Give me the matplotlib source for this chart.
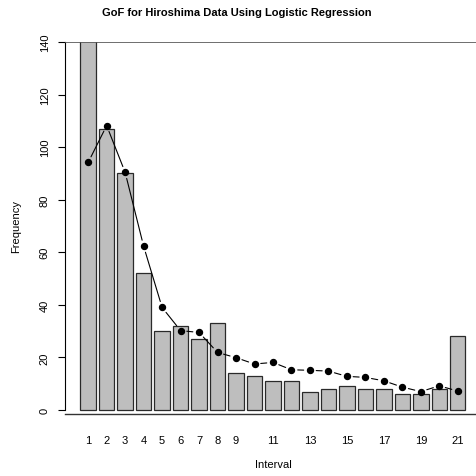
import matplotlib
matplotlib.use("Agg")
import matplotlib.pyplot as plt

plt.rcParams['font.family'] = ['Liberation Sans', 'DejaVu Sans']

intervals = list(range(1, 22))
observed = [142, 107, 90, 52, 30, 32, 27, 33, 14, 13, 11, 11, 7, 8, 9, 8, 8, 6, 6, 8, 28]
expected = [94.2, 108.2, 90.4, 62.3, 39.0, 30.2, 29.5, 21.9, 19.9, 17.5, 18.1, 15.3,
            15.1, 14.8, 12.8, 12.4, 11.1, 8.7, 7.0, 9.2, 7.2]
xlabels = ["1", "2", "3", "4", "5", "6", "7", "8", "9", "", "11", "", "13", "",
           "15", "", "17", "", "19", "", "21"]

W, H = 477, 477
fig = plt.figure(figsize=(W / 100, H / 100), dpi=100)
# axes in pixel coords: left 65, right 477, top 43, bottom 415.2
ax = fig.add_axes([65 / W, 1 - 415.2 / H, (477 - 65) / W, (415.2 - 43) / H])
ax.set_xlim(-0.255, 22.04)
ax.set_ylim(-1.6, 140)

ax.bar(intervals, observed, width=1 / 1.2, color="#bebebe", edgecolor="#2a2a2a", linewidth=0.9)

# type="b" style: points with gaps in the connecting lines
ax.plot(intervals, expected, "o", color="black", markersize=4.3, zorder=4)
for i in range(len(intervals) - 1):
    ax.annotate("", xy=(intervals[i + 1], expected[i + 1]), xytext=(intervals[i], expected[i]),
                arrowprops=dict(arrowstyle="-", shrinkA=4.5, shrinkB=4.5, lw=0.8, color="black"))

for s in ["top", "right", "bottom"]:
    ax.spines[s].set_visible(False)
ax.spines["left"].set_bounds(0, 140)
ax.spines["left"].set_linewidth(0.8)
ax.axhline(140, color="#555555", lw=1.2, zorder=5)
ax.axhline(-1.6, color="#333333", lw=1.0, zorder=5, clip_on=False)

ax.set_yticks(range(0, 141, 20))
ax.set_yticklabels([str(v) for v in range(0, 141, 20)], rotation=90, va="center", fontsize=8)
ax.tick_params(axis="y", length=5, width=0.8, pad=6)
ax.set_xticks(intervals)
ax.set_xticklabels(xlabels, fontsize=8)
ax.tick_params(axis="x", length=0, pad=15)

fig.text(237 / W, 1 - 13 / H, "GoF for Hiroshima Data Using Logistic Regression",
         ha="center", va="center", fontsize=8, fontweight="bold")
fig.text(273 / W, 1 - 465 / H, "Interval", ha="center", va="center", fontsize=8)
fig.text(16 / W, 1 - 227 / H, "Frequency", ha="center", va="center", fontsize=8, rotation=90)

fig.savefig("out.png", dpi=100)
